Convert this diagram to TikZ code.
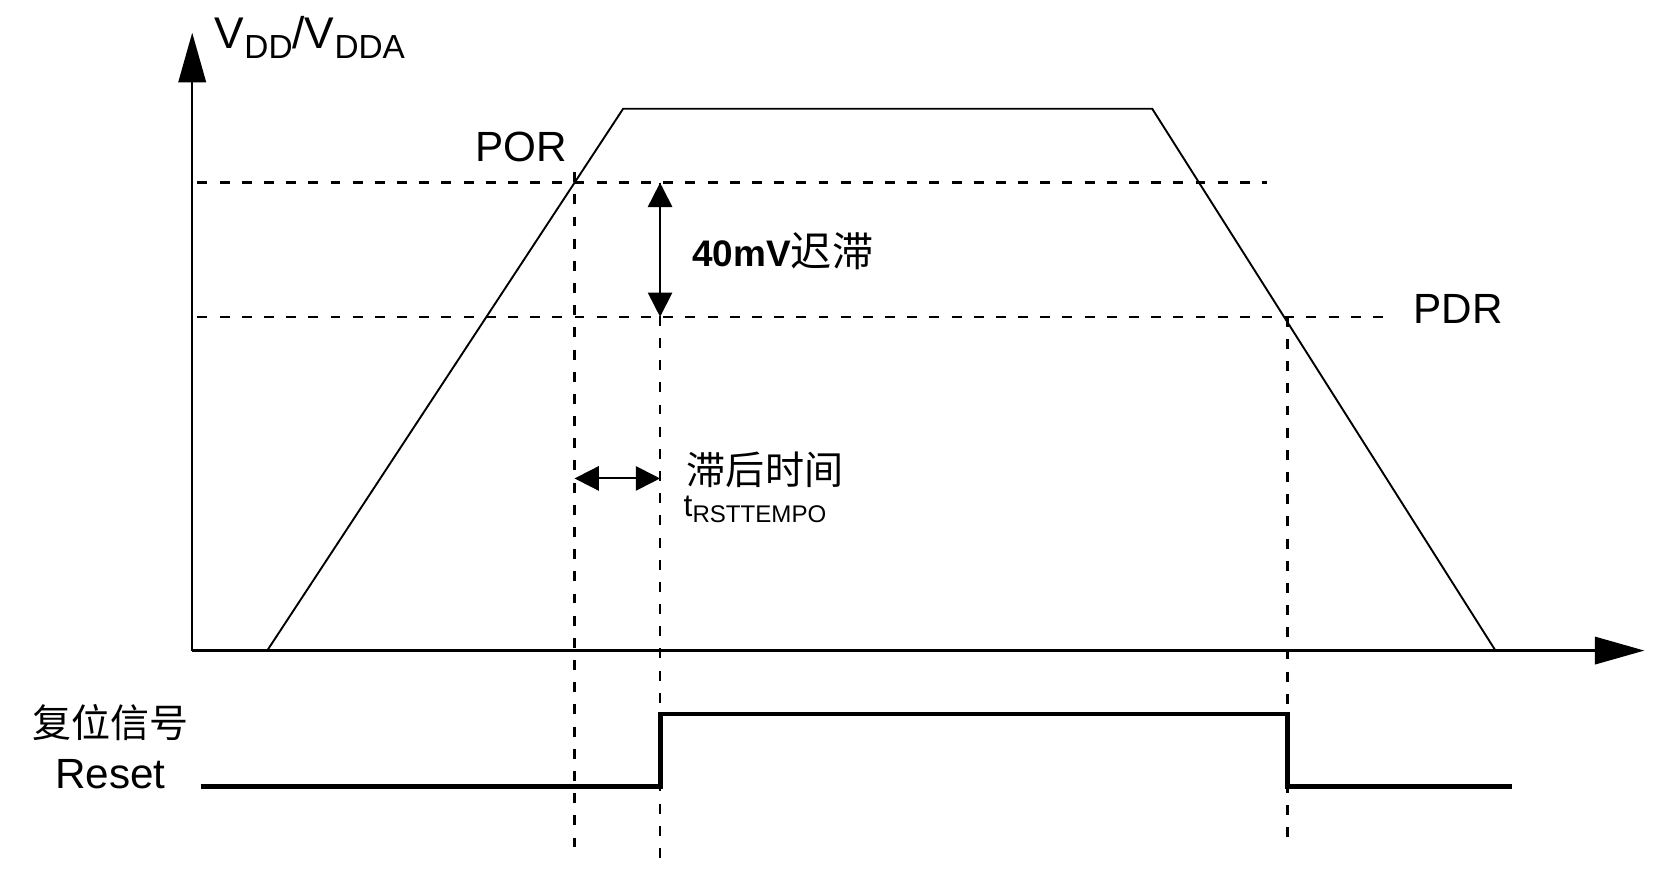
\documentclass[tikz,border=0pt]{standalone}
\usepackage{fontspec}
\setmainfont{Liberation Sans}
\newfontfamily\cjk{Noto Sans CJK SC}
\usetikzlibrary{arrows.meta}
\begin{document}
\begin{tikzpicture}[x=0.5pt,y=-0.5pt,
  axis/.style={line width=1.1pt},
  bigtip/.style={-{Triangle[length=23.5pt,width=13pt]}},
  smalltips/.style={{Triangle[length=11.5pt,width=11.5pt]}-{Triangle[length=11.5pt,width=11.5pt]}},
  curve/.style={line width=0.9pt},
  guide/.style={line width=1.25pt,dash pattern=on 4.7pt off 5.8pt},
  sig/.style={line width=2.3pt},
  lbl/.style={inner sep=0pt,anchor=base west},
  clbl/.style={inner sep=0pt,anchor=west}]
\useasboundingbox (0,0) rectangle (1568,825);
% coordinates
\coordinate (O) at (182,616);
\coordinate (ytip) at (182,31);
\coordinate (xtip) at (1557,616);
\coordinate (r0) at (253,616);
\coordinate (r1) at (590,103);
\coordinate (f1) at (1091,103);
\coordinate (f0) at (1416,616);
\coordinate (porL) at (187,173);
\coordinate (porR) at (1200,173);
\coordinate (pdrL) at (187,300);
\coordinate (pdrR) at (1315,300);
\coordinate (v1t) at (544,163);
\coordinate (v1b) at (544,812);
\coordinate (v2t) at (625,173);
\coordinate (v2b) at (625,818);
\coordinate (v3t) at (1219,300);
\coordinate (v3b) at (1219,794);
\coordinate (hA) at (625,173);
\coordinate (hB) at (625,300);
\coordinate (dL) at (544,453);
\coordinate (dR) at (625,453);
\coordinate (s0) at (190,745);
\coordinate (s1) at (625,745);
\coordinate (s2) at (625,676);
\coordinate (s3) at (1219,676);
\coordinate (s4) at (1219,745);
\coordinate (s5) at (1432,745);
% guides
\draw[guide] (porL) -- (porR);
\draw[guide] (pdrL) -- (pdrR);
\draw[guide] (v1t) -- (v1b);
\draw[guide] (v2t) -- (v2b);
\draw[guide] (v3t) -- (v3b);
% axes
\draw[axis,bigtip] (O) -- (ytip);
\draw[axis,bigtip] (O) -- (xtip);
% supply curve
\draw[curve] (r0) -- (r1) -- (f1) -- (f0);
% hysteresis arrows
\draw[line width=0.9pt,smalltips] (hA) -- (hB);
\draw[line width=0.9pt,smalltips] (dL) -- (dR);
% reset signal
\draw[sig] (s0) -- (s1) -- (s2) -- (s3) -- (s4) -- (s5);
% labels
\node[lbl] (vlab) at (203,46) {\fontsize{21}{25}\selectfont V\raisebox{-4.8pt}{\fontsize{15.8}{18}\selectfont DD}/V\raisebox{-4.8pt}{\fontsize{15.8}{18}\selectfont DDA}};
\node[lbl] (por) at (450,153) {\fontsize{20}{24}\selectfont POR};
\node[lbl] (pdr) at (1338,306) {\fontsize{20}{24}\selectfont PDR};
\node[lbl] (hys) at (655,252) {\fontsize{17.5}{20}\selectfont\bfseries 40mV{\cjk\mdseries\fontsize{19.5}{22}\selectfont 迟滞}};
\node[clbl] (dly) at (650,445) {\cjk\fontsize{18.5}{22}\selectfont 滞后时间};
\node[lbl] (trst) at (647,489) {\fontsize{15}{18}\selectfont t\raisebox{-3pt}{\fontsize{11.4}{13}\selectfont RSTTEMPO}};
\node[clbl] (fw) at (30,684) {\cjk\fontsize{18.5}{22}\selectfont 复位信号};
\node[lbl] (rst) at (52,747) {\fontsize{20}{24}\selectfont Reset};
\end{tikzpicture}
\end{document}
